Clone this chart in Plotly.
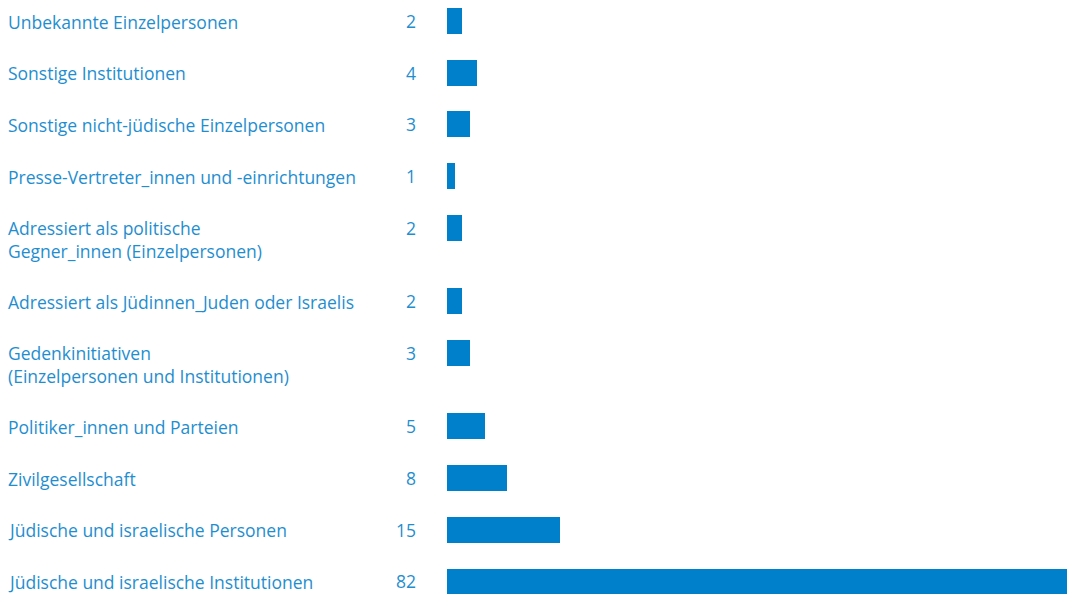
import plotly.graph_objects as go

categories = [
    "Unbekannte Einzelpersonen",
    "Sonstige Institutionen",
    "Sonstige nicht-jüdische Einzelpersonen",
    "Presse-Vertreter_innen und -einrichtungen",
    "Adressiert als politische<br>Gegner_innen (Einzelpersonen)",
    "Adressiert als Jüdinnen_Juden oder Israelis",
    "Gedenkinitiativen<br>(Einzelpersonen und Institutionen)",
    "Politiker_innen und Parteien",
    "Zivilgesellschaft",
    "Jüdische und israelische Personen",
    "Jüdische und israelische Institutionen",
]
values = [2, 4, 3, 1, 2, 2, 3, 5, 8, 15, 82]

BAR_COLOR = "#0080CB"
TEXT_COLOR = "#1F8ED0"
FONT = "Open Sans"
FS = 17.5

# row positions: two-line labels take extra vertical space
ypos = []
acc = 0.0
for c in categories:
    ypos.append(acc)
    acc += 1 + 0.42 * c.count("<br>")

W, H = 1071, 594
fig = go.Figure(go.Bar(
    x=values, y=ypos, orientation="h", width=0.5,
    marker=dict(color=BAR_COLOR, line=dict(width=0)),
    hoverinfo="skip",
))

annotations = []
for c, v, y in zip(categories, values, ypos):
    annotations.append(dict(
        x=6 / W, xref="paper", y=y, yref="y", text=c, showarrow=False,
        xanchor="left", yanchor="top", yshift=13.5, align="left",
        font=dict(family=FONT, size=FS, color=TEXT_COLOR),
    ))
    annotations.append(dict(
        x=418 / W, xref="paper", y=y, yref="y", text=str(v), showarrow=False,
        xanchor="right", yanchor="middle", align="right",
        font=dict(family=FONT, size=FS, color=TEXT_COLOR),
    ))

fig.update_layout(
    width=W, height=H,
    margin=dict(l=0, r=0, t=0, b=0),
    paper_bgcolor="white", plot_bgcolor="white",
    showlegend=False,
    xaxis=dict(domain=[447 / W, 1067 / W], range=[0, 82], visible=False, fixedrange=True),
    yaxis=dict(range=[(H - 21) / 51.7, -21 / 51.7], visible=False, fixedrange=True),
    annotations=annotations,
    bargap=0,
)
fig.write_html("out.html", config={"displayModeBar": False},
               post_script="document.body.style.margin='0';document.body.style.overflow='hidden';")
